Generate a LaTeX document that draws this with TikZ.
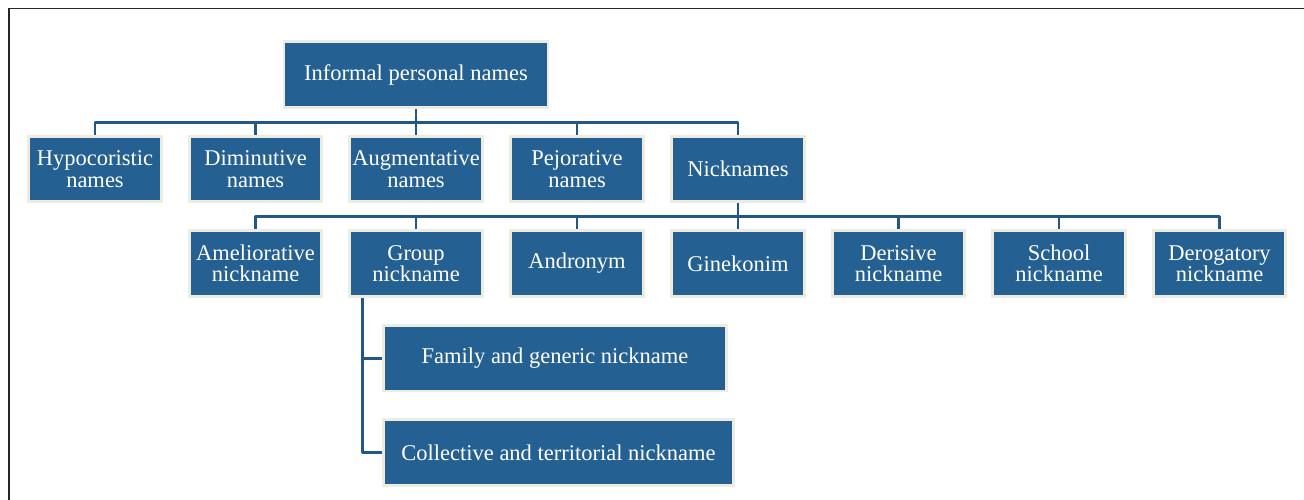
\documentclass[tikz,border=0pt]{standalone}
\usepackage{fontspec}
\setmainfont{Liberation Serif}
\definecolor{boxblue}{RGB}{37,96,146}
\definecolor{boxrim}{RGB}{238,236,225}
\definecolor{linkblue}{RGB}{33,88,137}
\tikzset{
  namebox/.style={rectangle, fill=boxblue, draw=boxrim, line width=2.7pt,
    minimum width=132.5pt, minimum height=65.5pt, inner sep=0pt,
    text=white, align=center, font=\fontsize{22.5}{21.5}\selectfont},
  link/.style={draw=linkblue, line width=2.9pt, line join=round}
}
\begin{document}
\begin{tikzpicture}[x=1pt,y=-1pt]
\useasboundingbox (0,0) rectangle (1304,500);
\draw[line width=1.3pt, black!85] (9,500) -- (9,8.5) -- (1304,8.5);

\node[namebox, minimum width=264pt, minimum height=66.5pt] (root) at (416,74.5) {Informal personal names};

\node[namebox] (hypo) at (95,169) {Hypocoristic\\names};
\node[namebox] (dimin) at (255.5,169) {Diminutive\\names};
\node[namebox] (augm) at (416,169) {Augmentative\\names};
\node[namebox] (pejor) at (577,169) {Pejorative\\names};
\node[namebox] (nick) at (738,169) {Nicknames};

\node[namebox] (amel) at (255.5,263.5) {Ameliorative\\nickname};
\node[namebox] (group) at (416,263.5) {Group\\nickname};
\node[namebox] (andro) at (577,263.5) {Andronym};
\node[namebox] (gineko) at (738,263.5) {Ginekonim};
\node[namebox] (deris) at (898.5,263.5) {Derisive\\nickname};
\node[namebox] (school) at (1059,263.5) {School\\nickname};
\node[namebox] (derog) at (1219.5,263.5) {Derogatory\\nickname};

\node[namebox, minimum width=343.5pt] (family) at (555,358.3) {Family and generic nickname};
\node[namebox, minimum width=350.5pt] (collect) at (558.5,452.5) {Collective and territorial nickname};

% first level
\coordinate (bus1) at (0,122.3);
\draw[link] (hypo.north) -- (hypo.north |- bus1) -- (nick.north |- bus1) -- (nick.north);
\draw[link] (root.south) -- (root.south |- bus1);
\draw[link] (dimin.north) -- (dimin.north |- bus1);
\draw[link] (augm.north) -- (augm.north |- bus1);
\draw[link] (pejor.north) -- (pejor.north |- bus1);

% second level
\coordinate (bus2) at (0,216.5);
\draw[link] (amel.north) -- (amel.north |- bus2) -- (derog.north |- bus2) -- (derog.north);
\draw[link] (nick.south) -- (nick.south |- bus2);
\draw[link] (group.north) -- (group.north |- bus2);
\draw[link] (andro.north) -- (andro.north |- bus2);
\draw[link] (gineko.north) -- (gineko.north |- bus2);
\draw[link] (deris.north) -- (deris.north |- bus2);
\draw[link] (school.north) -- (school.north |- bus2);

% group nickname
\coordinate (gx) at (362.7,0);
\draw[link] (group.south -| gx) |- (collect.west);
\draw[link] (family.west -| gx) -- (family.west);

\end{tikzpicture}
\end{document}
